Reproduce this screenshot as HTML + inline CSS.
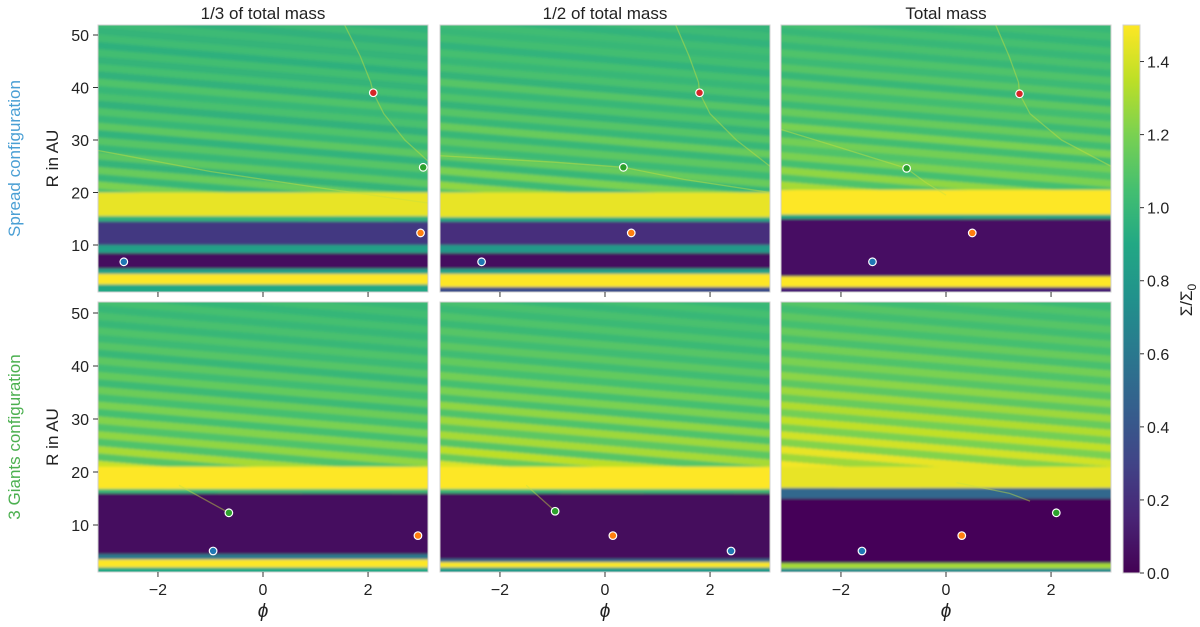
<!DOCTYPE html>
<html><head><meta charset="utf-8"><style>
body{margin:0;background:#fff;}
svg{display:block;font-family:"Liberation Sans","DejaVu Sans",sans-serif;}
</style></head><body>
<svg id="fig" width="1200" height="627" viewBox="0 0 1200 627">
<defs>
<filter id="soft" x="0" y="-0.05" width="1" height="1.1"><feGaussianBlur stdDeviation="0.3 1.3"/></filter>
<linearGradient id="cbgrad" x1="0" y1="1" x2="0" y2="0">
<stop offset="0" stop-color="#440154"/><stop offset="0.1" stop-color="#482475"/><stop offset="0.2" stop-color="#414487"/><stop offset="0.3" stop-color="#355f8d"/><stop offset="0.4" stop-color="#2a788e"/><stop offset="0.5" stop-color="#21918c"/><stop offset="0.6" stop-color="#22a884"/><stop offset="0.7" stop-color="#44bf70"/><stop offset="0.8" stop-color="#7ad151"/><stop offset="0.9" stop-color="#bddf26"/><stop offset="1" stop-color="#fde725"/>
</linearGradient>
</defs>
</svg>
<script>
// ---- data ----
const panelTitles = ["1/3 of total mass","1/2 of total mass","Total mass"];
const rowLabels = ["Spread configuration","3 Giants configuration"];
const yTicks = [10,20,30,40,50];
const xTicks = [-2,0,2];
const cbTicks = [0.0,0.2,0.4,0.6,0.8,1.0,1.2,1.4];
// bands: [rInner, rOuter, value]
const bandsTL = [[0,2.5,0.9],[2.5,4.5,1.5],[4.5,5.5,0.85],[5.5,8.5,0.05],[8.5,10,0.85],[10,14.5,0.25],[14.5,15.5,0.95],[15.5,20,1.45]];
const bandsTM = [[0,2,0.35],[2,4.5,1.5],[4.5,5.5,0.85],[5.5,8.5,0.05],[8.5,10,0.8],[10,14.5,0.2],[14.5,15.3,0.9],[15.3,20,1.45]];
const bandsTR = [[0,2,0.15],[2,4,1.5],[4,15,0.07],[15,15.8,0.9],[15.8,20.5,1.5]];
const bandsBL = [[0,2,0.9],[2,3.5,1.5],[3.5,4.5,0.6],[4.5,16,0.05],[16,16.8,1.0],[16.8,21,1.5]];
const bandsBM = [[0,2,0.8],[2,3,1.5],[3,3.6,0.5],[3.6,16,0.04],[16,16.8,1.0],[16.8,21,1.5]];
const bandsBR = [[0,1.8,0.7],[1.8,2.8,1.3],[2.8,15,0.02],[15,17,0.5],[17,21,1.45]];
// stripe values above ~20 AU (left-edge radius 18 + 1.4*k)
const stripesTL = [1.25,1.05,1.2,1.0,1.15,0.98,1.12,1.0,1.1,0.97,1.12,1.0,1.08,0.96,1.06,1.0,1.08,0.96,1.05,0.98,1.04,0.95,1.03,0.98,1.02,0.96,1.02,0.97,1.0,0.96];
const stripesTM = [1.3,1.08,1.25,1.02,1.2,1.0,1.15,1.02,1.12,1.0,1.15,1.0,1.1,0.98,1.08,1.0,1.1,0.98,1.06,1.0,1.05,0.97,1.04,1.0,1.03,0.97,1.02,0.98,1.01,0.97];
const stripesTR = [1.35,1.12,1.3,1.08,1.25,1.05,1.2,1.08,1.18,1.04,1.2,1.04,1.15,1.02,1.12,1.04,1.12,1.0,1.1,1.02,1.08,1.0,1.06,1.0,1.05,0.99,1.04,1.0,1.03,0.99];
const stripesBL = [1.45,1.15,1.38,1.1,1.3,1.08,1.25,1.08,1.22,1.05,1.2,1.05,1.16,1.02,1.14,1.03,1.12,1.0,1.1,1.02,1.08,1.0,1.06,1.0,1.05,0.99,1.04,1.0,1.03,0.99];
const stripesBM = [1.45,1.2,1.42,1.15,1.35,1.1,1.3,1.12,1.28,1.08,1.25,1.06,1.2,1.05,1.18,1.05,1.14,1.03,1.12,1.03,1.1,1.01,1.08,1.01,1.06,1.0,1.05,1.0,1.04,1.0];
const stripesBR = [1.5,1.35,1.48,1.28,1.45,1.22,1.4,1.2,1.36,1.18,1.32,1.15,1.28,1.12,1.24,1.1,1.2,1.08,1.18,1.06,1.15,1.05,1.12,1.04,1.1,1.03,1.08,1.02,1.06,1.02];
// planets: [phi, R, color]
const planetsTL = [[-2.65,6.8,"#1f77b4"],[2.1,39,"#d62728"],[3.0,12.3,"#ff7f0e"],[3.05,24.8,"#2ca02c"]];
const planetsTM = [[-2.35,6.8,"#1f77b4"],[0.5,12.3,"#ff7f0e"],[0.35,24.8,"#2ca02c"],[1.8,39,"#d62728"]];
const planetsTR = [[-1.4,6.8,"#1f77b4"],[0.5,12.3,"#ff7f0e"],[-0.75,24.6,"#2ca02c"],[1.4,38.8,"#d62728"]];
const planetsBL = [[-0.95,5.1,"#1f77b4"],[-0.65,12.3,"#2ca02c"],[2.95,8,"#ff7f0e"]];
const planetsBM = [[-0.95,12.6,"#2ca02c"],[0.15,8,"#ff7f0e"],[2.4,5.1,"#1f77b4"]];
const planetsBR = [[-1.6,5.1,"#1f77b4"],[0.3,8,"#ff7f0e"],[2.1,12.3,"#2ca02c"]];
// wakes (phi,R) polylines
const wakesTL = [[[1.5,53],[1.85,46],[2.05,41],[2.1,39],[2.3,35],[2.7,30],[3.14,26]],[[-3.14,28],[-1,24],[1,21],[3.14,18]]];
const wakesTM = [[[1.3,53],[1.6,46],[1.78,41],[1.8,39],[2.0,35],[2.5,30],[3.14,25]],[[-3.14,27],[-1,25.8],[0.35,24.8],[1.5,22.5],[3.14,20]]];
const wakesTR = [[[0.9,53],[1.2,46],[1.38,41],[1.4,38.8],[1.6,35],[2.2,30],[3.14,25]],[[-3.14,32],[-2,28.5],[-0.75,24.6],[-0.4,22],[0,19.5]]];
const wakesBL = [[[-1.6,17.5],[-0.65,12.3]]];
const wakesBM = [[[-1.5,17.5],[-0.95,12.6]]];
const wakesBR = [[[0.2,18],[1.2,16],[1.6,14.5]]];

const panels = [
 {col:0,row:0,bands:bandsTL,stripes:stripesTL,planets:planetsTL,wakes:wakesTL},
 {col:1,row:0,bands:bandsTM,stripes:stripesTM,planets:planetsTM,wakes:wakesTM},
 {col:2,row:0,bands:bandsTR,stripes:stripesTR,planets:planetsTR,wakes:wakesTR},
 {col:0,row:1,bands:bandsBL,stripes:stripesBL,planets:planetsBL,wakes:wakesBL},
 {col:1,row:1,bands:bandsBM,stripes:stripesBM,planets:planetsBM,wakes:wakesBM},
 {col:2,row:1,bands:bandsBR,stripes:stripesBR,planets:planetsBR,wakes:wakesBR}];

// ---- scales ----
const colX = [98,440,781], PW = 330;
const rowY = [{top:25,h:267,y0:297.5,k:5.25},{top:302,h:270,y0:578,k:5.3}];
const xs = (c,phi)=> colX[c] + (phi+Math.PI)/(2*Math.PI)*PW;
const ys = (r,R)=> rowY[r].y0 - rowY[r].k*R;
const vir = ["#440154","#482475","#414487","#355f8d","#2a788e","#21918c","#22a884","#44bf70","#7ad151","#bddf26","#fde725"];
function hex(h){return [1,3,5].map(i=>parseInt(h.substr(i,2),16));}
function cmap(v){let t=Math.max(0,Math.min(1,v/1.5))*10;let i=Math.min(9,Math.floor(t)),f=t-i;const a=hex(vir[i]),b=hex(vir[i+1]);return "rgb("+a.map((x,j)=>Math.round(x+(b[j]-x)*f)).join(",")+")";}

const NS="http://www.w3.org/2000/svg", svg=document.getElementById("fig"), defs=svg.querySelector("defs");
function mk(tag,attrs,parent){const e=document.createElementNS(NS,tag);for(const k in attrs)e.setAttribute(k,attrs[k]);(parent||svg).appendChild(e);return e;}

panels.forEach((p,pi)=>{
 const x0=colX[p.col], R=rowY[p.row];
 const cp=mk("clipPath",{id:"cp"+pi},defs); mk("rect",{x:x0,y:R.top,width:PW,height:R.h},cp);
 const g=mk("g",{"clip-path":"url(#cp"+pi+")"});
 
 
 const hg=mk("g",{filter:"url(#soft)"},g);
 mk("rect",{x:x0-5,y:R.top-5,width:PW+10,height:R.h+10,fill:cmap(1.05)},hg);
 const drop=5.5, sp=1.4;
 p.stripes.forEach((v,k)=>{
  const rl=18+sp*k, rh=rl+sp;
  const s=mk("polygon",{points:[[x0-5,ys(p.row,rl)],[x0+PW+5,ys(p.row,rl-drop)],[x0+PW+5,ys(p.row,rh-drop)],[x0-5,ys(p.row,rh)]].map(q=>q.join(",")).join(" "),fill:cmap(v)},hg);
  
  
 });
 p.bands.forEach(b=>{
  const r=mk("rect",{x:x0-5,y:ys(p.row,b[1]),width:PW+10,height:ys(p.row,b[0])-ys(p.row,b[1]),fill:cmap(b[2])},hg);
  
  
 });
 p.wakes.forEach(w=>{
  const l=mk("polyline",{points:w.map(q=>xs(p.col,q[0])+","+ys(p.row,q[1])).join(" "),fill:"none",stroke:"#c8e040",
   "stroke-width":1.3,"stroke-opacity":0.45,"stroke-linejoin":"round"},g);
  
  
 });
 const fr=mk("rect",{x:x0,y:R.top,width:PW,height:R.h,fill:"none",stroke:"#d0d0d0","stroke-width":1});
 
 
 p.planets.forEach(pl=>{
  const c=mk("circle",{cx:xs(p.col,pl[0]),cy:ys(p.row,pl[1]),r:3.8,fill:pl[2],stroke:"#fff","stroke-width":1.2});
  
  
 });
 xTicks.forEach(t=>{
  const x=xs(p.col,t); const yb=R.top+R.h;
  mk("line",{x1:x,x2:x,y1:yb,y2:yb+5,stroke:"#333","stroke-width":1});
  if(p.row===1){const tx=mk("text",{x:x,y:yb+23,"text-anchor":"middle","font-size":16,fill:"#222"});tx.textContent=(t<0?"\u2212"+(-t):t);
   
   }
 });
 if(p.col===0){
  yTicks.forEach(t=>{const y=ys(p.row,t);
   mk("line",{x1:x0-5,x2:x0,y1:y,y2:y,stroke:"#333","stroke-width":1});
   const tx=mk("text",{x:x0-9,y:y+6,"text-anchor":"end","font-size":16,fill:"#222"});tx.textContent=t;
   
   });
 }
 if(p.row===0){const tt=mk("text",{x:x0+PW/2,y:19,"text-anchor":"middle","font-size":17,fill:"#222"});tt.textContent=panelTitles[p.col];
  
  }
 if(p.row===1){const xl=mk("text",{x:x0+PW/2,y:617,"text-anchor":"middle","font-size":19,"font-style":"italic",fill:"#222"});xl.textContent="\u03d5";
  
  }
});
[0,1].forEach(r=>{
 const cy=rowY[r].top+rowY[r].h/2;
 const t=mk("text",{x:0,y:0,transform:"translate(58,"+cy+") rotate(-90)","text-anchor":"middle","font-size":17,fill:"#222"});t.textContent="R in AU";
 
 
 const l=mk("text",{x:0,y:0,transform:"translate(20,"+cy+") rotate(-90)","text-anchor":"middle","font-size":17,fill:r===0?"#4a9fd4":"#4cb050"});l.textContent=rowLabels[r];
 
 
});
const cbTop=25, cbBot=573, cbX=1123, cbW=17;
const cb=mk("rect",{x:cbX,y:cbTop,width:cbW,height:cbBot-cbTop,fill:"url(#cbgrad)",stroke:"#d0d0d0","stroke-width":1});


cbTicks.forEach(t=>{const y=cbBot-(cbBot-cbTop)*t/1.5;
 mk("line",{x1:cbX+cbW,x2:cbX+cbW+4,y1:y,y2:y,stroke:"#333","stroke-width":1});
 const tx=mk("text",{x:cbX+cbW+7,y:y+6,"font-size":16,fill:"#222"});tx.textContent=t.toFixed(1);
 
 });
const cl=mk("text",{x:0,y:0,transform:"translate(1192,300) rotate(-90)","text-anchor":"middle","font-size":17,fill:"#222"});
cl.innerHTML='\u03a3/\u03a3<tspan font-size="12" dy="4">0</tspan>';


</script>
</body></html>
